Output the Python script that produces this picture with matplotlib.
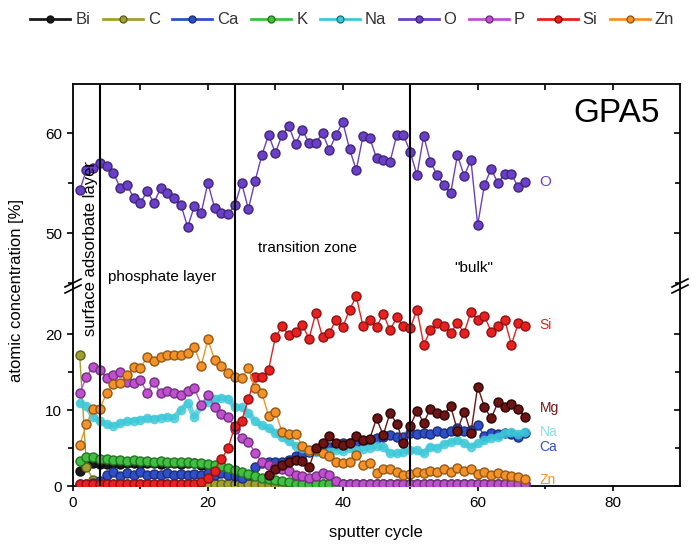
import numpy as np
import matplotlib
matplotlib.use('Agg')
import matplotlib.pyplot as plt
from matplotlib.lines import Line2D
import matplotlib.lines as mlines

plt.rcParams['font.family'] = ['Liberation Sans', 'DejaVu Sans']

cycles = list(range(1, 68))

o_vals = [54.3, 56.3, 56.5, 57.0, 56.7, 56.0, 54.5, 54.8, 53.5, 53.0,
          54.2, 53.0, 54.5, 54.0, 53.5, 52.8, 50.6, 52.7, 52.0, 55.0,
          52.5, 52.0, 51.9, 52.8, 55.0, 52.4, 55.2, 57.8, 59.8, 58.0,
          59.8, 60.7, 58.9, 60.3, 59.0, 59.0, 60.0, 58.3, 59.8, 61.1,
          58.4, 56.3, 59.7, 59.5, 57.5, 57.3, 57.1, 59.8, 59.8, 58.1,
          55.8, 59.7, 57.1, 55.8, 54.8, 54.0, 57.8, 55.7, 57.3, 50.8,
          54.8, 56.4, 55.0, 55.9, 55.9, 54.6, 55.1]

si_vals = [0.2] * 17 + [0.3, 0.5, 1.0, 2.0, 3.5, 5.0, 7.9, 8.6, 11.4,
           14.4, 14.3, 15.3, 19.6, 21.0, 19.9, 20.3, 21.2, 19.4, 22.8,
           19.6, 20.2, 21.8, 20.9, 23.2, 25.0, 21.0, 21.9, 20.9, 22.7,
           20.5, 22.2, 21.0, 20.8, 23.2, 18.6, 20.5, 21.4, 21.0, 20.2,
           21.4, 20.2, 22.9, 21.8, 22.4, 20.3, 21.0, 21.9, 18.6, 21.4, 21.1]

zn_vals = [5.4, 8.2, 10.1, 10.2, 12.3, 13.4, 13.6, 14.6, 15.7, 15.5,
           17.0, 16.5, 17.0, 17.2, 17.2, 17.3, 17.5, 18.3, 15.8, 19.3,
           16.6, 15.8, 14.9, 14.4, 14.2, 15.5, 12.9, 12.3, 9.2, 9.8,
           7.1, 6.8, 6.8, 5.3, 4.7, 4.8, 4.3, 4.0, 3.1, 3.0,
           3.1, 4.1, 2.8, 3.0, 1.7, 2.3, 2.2, 1.8, 1.5, 1.6,
           1.9, 1.7, 2.0, 1.8, 2.3, 1.9, 2.4, 2.0, 2.2, 1.6,
           1.8, 1.5, 1.7, 1.4, 1.3, 1.2, 0.9]

p_vals = [12.2, 14.4, 15.7, 15.3, 14.2, 14.6, 15.0, 13.7, 13.5, 13.9,
          12.3, 13.7, 12.2, 12.5, 12.2, 12.0, 12.5, 12.9, 10.7, 12.0,
          10.4, 9.5, 9.1, 7.5, 6.3, 5.8, 4.4, 3.1, 2.8, 2.5,
          2.3, 2.0, 1.4, 1.3, 1.0, 1.3, 1.7, 1.5, 0.6] + [0.3] * 28

na_vals = [10.9, 10.5, 9.1, 8.5, 8.1, 7.9, 8.3, 8.5, 8.6, 8.7,
           8.9, 8.8, 9.0, 9.1, 9.0, 10.0, 10.9, 9.1, 10.5, 11.1,
           11.5, 11.6, 11.5, 10.4, 10.4, 9.6, 8.5, 8.0, 7.6, 7.0,
           6.4, 5.9, 5.3, 5.0, 4.6, 4.5, 4.3, 4.5, 4.8, 4.6,
           5.0, 4.7, 4.9, 5.0, 5.3, 5.2, 4.3, 4.3, 4.5, 4.7,
           4.7, 4.3, 5.2, 5.0, 5.5, 5.8, 6.0, 5.6, 5.2, 5.6,
           6.0, 6.3, 6.5, 7.0, 7.1, 6.9, 7.1]

ca_vals = [0.3, 0.3, 0.4, 0.6, 1.5, 1.8, 1.3, 1.7, 1.4, 1.8,
           1.4, 1.6, 1.4, 1.7, 1.5, 1.6, 1.5, 1.6, 1.5, 1.7,
           1.5, 1.7, 1.5, 1.3, 1.0, 1.5, 2.5, 3.0, 3.1, 3.2,
           3.2, 3.4, 3.9, 4.2, 4.5, 4.8, 5.0, 5.2, 5.4, 5.6,
           5.6, 5.8, 5.9, 6.0, 6.3, 6.5, 6.7, 6.5, 6.5, 7.0,
           6.8, 7.0, 6.9, 7.2, 7.0, 7.3, 7.6, 7.2, 7.4, 8.0,
           6.6, 7.0, 6.8, 7.0, 6.8, 6.5, 7.0]

k_vals = [3.3, 3.8, 3.8, 3.6, 3.5, 3.4, 3.4, 3.3, 3.4, 3.3,
          3.3, 3.2, 3.3, 3.2, 3.2, 3.1, 3.1, 3.0, 3.0, 2.9,
          2.8, 2.6, 2.4, 2.1, 1.9, 1.6, 1.3, 1.0, 0.9, 0.8,
          0.6, 0.5] + [0.3] * 35

bi_vals = [2.0, 2.8, 3.0, 2.9, 2.9, 3.0, 2.9, 3.0, 3.0, 2.9,
           3.0, 3.0, 2.9, 3.0, 3.0, 2.9, 3.0, 3.0, 2.8, 2.6,
           2.4, 2.2, 1.9, 1.4, 0.8, 0.5, 0.3, 0.2] + [0.1] * 39

c_vals = [17.2, 2.5, 0.8, 0.4] + [0.2] * 63

mg_cycles = list(range(29, 68))
mg_vals = [1.5, 2.2, 2.8, 3.2, 3.4, 3.3, 2.5, 5.0, 5.6, 6.6,
           5.6, 5.4, 5.7, 6.6, 6.0, 6.2, 8.9, 6.7, 9.6, 8.2,
           5.7, 7.9, 9.9, 8.3, 10.2, 9.6, 9.4, 10.5, 7.3, 9.8,
           7.0, 13.1, 10.4, 8.9, 11.0, 10.4, 10.8, 10.2, 9.1]

series_names = ['Bi', 'C', 'Ca', 'K', 'Na', 'O', 'P', 'Si', 'Zn']
series_colors = ['#1a1a1a', '#a0a030', '#2f4fc8', '#40c040', '#3cc8d8',
                 '#6a40c8', '#c050d0', '#e82020', '#f49228']
mg_color = '#6e1414'

layer_bounds = [4, 24, 50]

fig = plt.figure(figsize=(6.91, 5.45), dpi=100)
left, width = 73 / 691, 607 / 691
ax_top = fig.add_axes([left, 1 - 287 / 545, width, 203 / 545])
ax_bot = fig.add_axes([left, 1 - 486 / 545, width, 199 / 545])

lower = {'Bi': bi_vals, 'C': c_vals, 'Ca': ca_vals, 'K': k_vals,
         'Na': na_vals, 'P': p_vals, 'Si': si_vals, 'Zn': zn_vals}


def darker(c, f=0.6):
    rgb = np.array(matplotlib.colors.to_rgb(c))
    return tuple(rgb * f)


handles = []
for name, col in zip(series_names, series_colors):
    if name == 'Na':
        kw = dict(lw=4, alpha=0.75, ms=6, mec=col)
    else:
        kw = dict(lw=1, ms=6.5, mec=darker(col))
    if name == 'O':
        ax_top.plot(cycles, o_vals, '-o', color=col, zorder=3, **kw)
    else:
        ax_bot.plot(cycles, lower[name], '-o', color=col, zorder=3, **kw)
    handles.append(Line2D([], [], color=col, lw=2, marker='o', ms=5,
                          mec=darker(col), label=name))

ax_bot.plot(mg_cycles, mg_vals, '-o', color=mg_color, lw=1, ms=6.5,
            mec='#2a0505', zorder=3)

for ax in (ax_top, ax_bot):
    ax.set_xlim(0, 90)
    for b in layer_bounds:
        ax.axvline(b, color='black', lw=1.5, zorder=4)
    for sp in ax.spines.values():
        sp.set_linewidth(1.3)

ax_top.set_ylim(44.6, 64.9)
ax_top.set_yticks([50, 60])
ax_top.set_yticks([45, 55], minor=True)
ax_top.spines['bottom'].set_visible(False)
ax_top.set_xticks(range(10, 90, 10))

ax_bot.set_ylim(0, 26.2)
ax_bot.set_yticks([0, 10, 20])
ax_bot.set_yticks([5, 15], minor=True)
ax_bot.spines['top'].set_visible(False)
ax_bot.set_xticks([0, 20, 40, 60, 80])
ax_bot.set_xticks(range(10, 90, 20), minor=True)

for ax in (ax_top, ax_bot):
    ax.tick_params(axis='y', which='both', left=True, right=True,
                   direction='out', labelsize=11, width=1.2)
    ax.tick_params(axis='y', which='major', length=4.5)
    ax.tick_params(axis='y', which='minor', length=3.5)
ax_bot.tick_params(axis='x', which='both', direction='out', labelsize=11,
                   width=1.2, top=False)
ax_top.tick_params(axis='x', which='both', bottom=False, labelbottom=False,
                   top=True, width=1.2, length=4)

# right and top ticks point inward
fig.canvas.draw()
for ax in (ax_top, ax_bot):
    for t in ax.yaxis.get_major_ticks() + ax.yaxis.get_minor_ticks():
        t.tick2line.set_marker(mlines.TICKLEFT)
for t in ax_top.xaxis.get_major_ticks():
    t.tick2line.set_marker(mlines.TICKDOWN)

# break marks on the axis
for xf in (left, left + width):
    for dy in (-4, 2):
        yc = 1 - (287 + dy) / 545
        fig.add_artist(Line2D([xf - 8 / 691, xf + 8 / 691],
                              [yc - 4 / 545, yc + 4 / 545],
                              color='black', lw=1.2))

ax_top.text(87, 62, 'GPA5', fontsize=24, ha='right', va='center')
ax_top.text(69.2, 55.1, 'O', color=series_colors[5], fontsize=11, va='center')
ax_bot.text(69.2, 21.2, 'Si', color=series_colors[7], fontsize=10, va='center')
ax_bot.text(69.2, 10.3, 'Mg', color=mg_color, fontsize=10, va='center')
ax_bot.text(69.2, 7.1, 'Na', color=series_colors[4], fontsize=10, va='center', alpha=0.6)
ax_bot.text(69.2, 5.1, 'Ca', color=series_colors[2], fontsize=10, va='center')
ax_bot.text(69.2, 0.8, 'Zn', color=series_colors[8], fontsize=10, va='center')

fig.text(90 / 691, 1 - 248 / 545, 'surface adsorbate layer', rotation=90,
         ha='center', va='center', fontsize=12)
fig.text(162 / 691, 1 - 277 / 545, 'phosphate layer', ha='center',
         va='center', fontsize=11)
fig.text(308 / 691, 1 - 248 / 545, 'transition zone', ha='center',
         va='center', fontsize=11)
fig.text(474 / 691, 1 - 268 / 545, '"bulk"', ha='center', va='center',
         fontsize=11)

fig.text(17 / 691, 1 - 290 / 545, 'atomic concentration [%]', rotation=90,
         ha='center', va='center', fontsize=12)
fig.text(376 / 691, 1 - 533 / 545, 'sputter cycle', ha='center',
         va='center', fontsize=12)

fig.legend(handles=handles, loc='center', bbox_to_anchor=(0.51, 1 - 20 / 545),
           ncol=10, frameon=False, fontsize=12, handlelength=2.4,
           handletextpad=0.3, columnspacing=0.75, labelcolor='#333333')

fig.savefig('out.png', dpi=100)
